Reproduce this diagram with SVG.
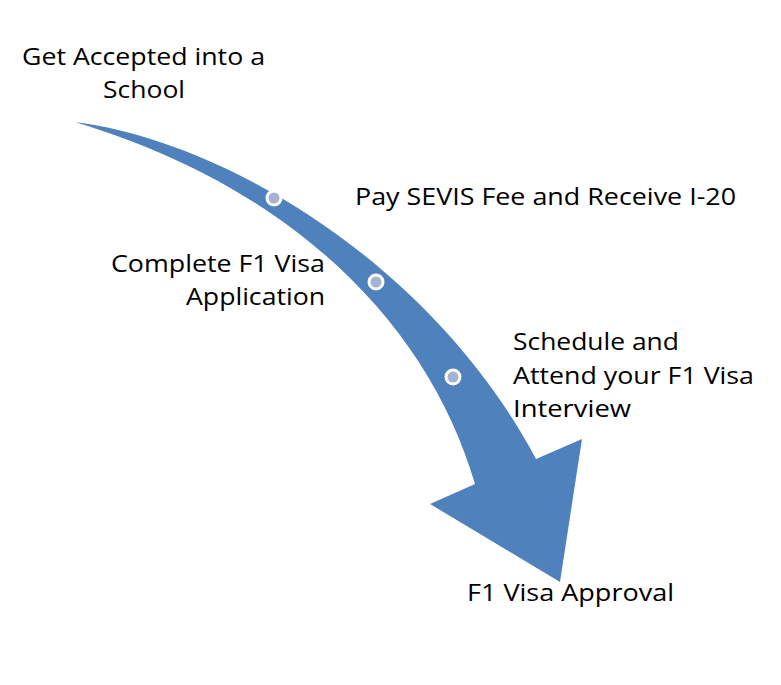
<svg xmlns="http://www.w3.org/2000/svg" width="781" height="685" viewBox="0 0 781 685">
<style>
text{font-family:"Open Sans","Liberation Sans",sans-serif;font-size:24px;fill:#000}
.dot{fill:#a5b3d0;stroke:#fff;stroke-width:3}
</style>
<rect width="781" height="685" fill="#fff"/>
<g id="arrow">
<path d="M75,122 C220,140 430,260 536,459 L582,439 L560,582 L430,504 L475,484 C430,330 300,190 75,122 Z" fill="#4f81bd"/>
</g>
<g id="dots">
<circle class="dot" cx="274" cy="198" r="7"/>
<circle class="dot" cx="376" cy="282" r="7"/>
<circle class="dot" cx="453" cy="377" r="7"/>
</g>
<g id="n1"><text x="22" y="65" textLength="243" lengthAdjust="spacingAndGlyphs">Get Accepted into a</text><text x="103" y="98" textLength="82" lengthAdjust="spacingAndGlyphs">School</text></g>
<g id="n2"><text x="355" y="205" textLength="381" lengthAdjust="spacingAndGlyphs">Pay SEVIS Fee and Receive I-20</text></g>
<g id="n3"><text x="111" y="272" textLength="214" lengthAdjust="spacingAndGlyphs">Complete F1 Visa</text><text x="186" y="305" textLength="139" lengthAdjust="spacingAndGlyphs">Application</text></g>
<g id="n4"><text x="513" y="350" textLength="166" lengthAdjust="spacingAndGlyphs">Schedule and</text><text x="513" y="384" textLength="241" lengthAdjust="spacingAndGlyphs">Attend your F1 Visa</text><text x="513" y="417" textLength="118" lengthAdjust="spacingAndGlyphs">Interview</text></g>
<g id="n5"><text x="467" y="601" textLength="207" lengthAdjust="spacingAndGlyphs">F1 Visa Approval</text></g>
</svg>
